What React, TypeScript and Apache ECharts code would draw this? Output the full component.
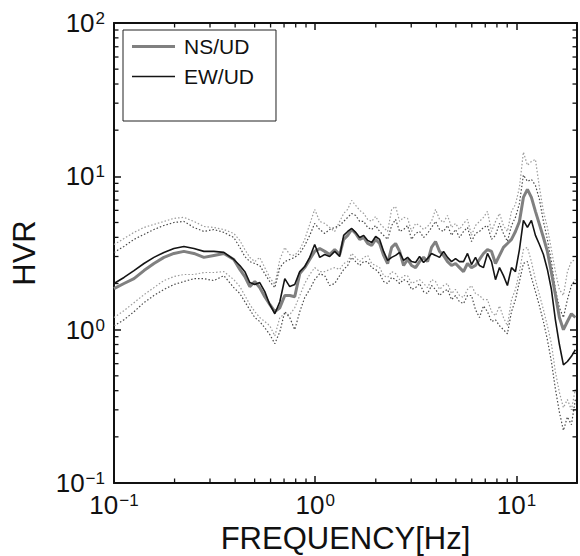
import React, { useEffect, useRef } from "react";
import * as echarts from "echarts";

const FREQ = [
  0.1, 0.1121, 0.1257, 0.1409, 0.1579, 0.177, 0.1985, 0.2225, 0.2495, 0.2797, 0.3135, 0.3515, 0.394,
  0.422, 0.447, 0.473, 0.501, 0.53, 0.5615, 0.5945, 0.63, 0.667, 0.706, 0.747, 0.791, 0.838, 0.887, 0.939, 0.994, 1.053, 1.115, 1.18, 1.25,
  1.323, 1.385, 1.45, 1.518, 1.589, 1.663, 1.741, 1.823, 1.908, 1.997, 2.09, 2.188, 2.29, 2.398, 2.509, 2.627, 2.75, 2.878, 3.013, 3.154,
  3.301, 3.456, 3.617, 3.786, 3.963, 4.149, 4.342, 4.546, 4.758, 4.981, 5.214, 5.458, 5.713, 5.981, 6.26, 6.553, 6.86, 7.18, 7.52, 7.87,
  8.24, 8.62, 9.02, 9.45, 9.89, 10.35, 10.83, 11.34, 11.87, 12.43, 13.01, 13.62, 14.25, 14.92, 15.62, 16.35, 17.12, 17.92, 18.76, 19.63,
];

const EW_MEAN = [
  2.0, 2.19, 2.43, 2.7, 2.96, 3.19, 3.38, 3.49, 3.38, 3.24, 3.24, 3.19, 2.87,
  2.62, 2.39, 2.03, 1.97, 2.03, 1.77, 1.46, 1.27, 1.52, 2.15, 1.91, 1.97, 2.39, 2.58, 2.96, 3.59, 2.96, 3.09, 3.0, 3.24,
  3.0, 4.12, 4.37, 4.57, 4.31, 3.99, 4.12, 3.82, 3.7, 4.05, 3.88, 3.24, 2.83, 2.96, 3.05, 3.19, 2.83, 2.96, 2.78, 2.74,
  3.0, 2.74, 2.91, 3.14, 3.05, 2.96, 3.24, 2.96, 2.78, 2.91, 2.78, 2.78, 3.14, 2.66, 2.96, 2.62, 2.54, 3.14, 2.78, 2.12,
  2.54, 2.25, 1.94, 2.54, 2.39, 3.33, 5.16, 4.64, 5.16, 4.12, 3.59, 3.09, 2.47, 1.83, 1.16, 0.8, 0.59, 0.62, 0.67, 0.74,
];

const NS_MEAN = [
  1.85, 2.0, 2.15, 2.43, 2.7, 2.96, 3.14, 3.24, 3.14, 2.96, 3.05, 3.14, 2.87,
  2.47, 2.22, 1.91, 2.06, 1.88, 1.64, 1.46, 1.31, 1.39, 1.67, 1.67, 1.64, 2.32, 2.54, 2.87, 3.24, 3.38, 3.24, 3.09, 3.33,
  3.09, 3.88, 4.12, 4.5, 4.24, 3.88, 3.99, 3.65, 3.54, 3.88, 3.65, 3.05, 2.7, 3.44, 3.65, 3.24, 2.62, 2.87, 2.62, 2.54,
  2.78, 2.96, 2.78, 3.44, 3.76, 3.24, 3.05, 2.78, 2.62, 2.7, 2.54, 2.39, 2.7, 2.54, 2.62, 2.87, 3.14, 3.33, 3.24, 2.7,
  3.05, 3.44, 3.65, 3.88, 4.37, 5.08, 7.29, 8.22, 7.29, 5.91, 4.86, 3.99, 3.24, 2.36, 1.69, 1.2, 1.0, 1.13, 1.27, 1.2,
];

const NS_UPPER = [
  3.59, 3.93, 4.31, 4.64, 4.86, 5.08, 5.32, 5.4, 5.08, 4.71, 4.64, 4.5, 4.24,
  3.82, 3.33, 2.96, 2.78, 2.96, 2.54, 2.19, 1.97, 2.87, 3.44, 3.09, 3.05, 3.33, 3.88, 4.86, 6.09, 5.08, 4.93, 4.64, 4.37,
  5.08, 5.73, 6.09, 6.97, 6.46, 6.0, 5.73, 5.24, 5.08, 5.48, 4.93, 4.64, 4.37, 6.09, 6.37, 5.08, 5.4, 5.32, 4.37, 4.93,
  4.78, 4.5, 4.71, 5.08, 6.09, 5.24, 5.0, 5.56, 4.64, 4.93, 4.5, 4.93, 5.24, 4.12, 4.78, 5.08, 5.4, 5.91, 4.37, 5.08,
  5.73, 4.78, 4.37, 5.91, 6.56, 8.47, 14.4, 11.8, 12.5, 12.9, 8.47, 5.91, 4.64, 3.33, 2.39, 1.83, 1.67, 2.39, 2.78, 2.87,
];

const EW_UPPER = [
  3.19, 3.49, 3.88, 4.18, 4.5, 4.78, 5.0, 5.08, 4.64, 4.37, 4.5, 4.31, 3.99,
  3.44, 3.0, 2.78, 2.7, 2.62, 2.32, 2.06, 1.88, 2.54, 2.78, 2.87, 2.96, 3.14, 3.54, 4.12, 4.93, 4.5, 4.24, 4.5, 4.64,
  4.78, 5.08, 5.4, 5.73, 5.56, 5.08, 5.08, 4.64, 4.5, 4.78, 4.37, 4.12, 3.88, 4.78, 5.24, 4.37, 4.5, 4.78, 3.88, 4.24,
  4.37, 3.99, 4.24, 4.64, 5.08, 4.5, 4.37, 4.78, 4.12, 4.5, 3.99, 4.37, 4.64, 3.76, 4.24, 4.37, 4.64, 4.78, 3.88, 4.12,
  4.93, 4.24, 3.76, 4.78, 5.4, 6.66, 10.2, 9.27, 9.56, 8.73, 7.07, 5.08, 3.88, 2.78, 1.83, 1.39, 1.2, 1.57, 1.94, 2.12,
];

const NS_LOWER = [
  1.2, 1.33, 1.5, 1.69, 1.88, 2.09, 2.22, 2.29, 2.29, 2.36, 2.36, 2.39, 2.12,
  1.91, 1.67, 1.46, 1.31, 1.2, 1.13, 1.06, 0.91, 1.2, 1.27, 1.25, 1.39, 1.67, 2.0, 2.29, 2.54, 2.39, 2.39, 2.47, 2.54,
  2.47, 2.7, 2.78, 3.14, 2.96, 2.78, 2.96, 3.05, 2.7, 2.62, 2.54, 2.25, 2.19, 2.39, 2.32, 2.12, 2.25, 2.25, 2.0, 2.06,
  2.12, 2.0, 1.88, 2.12, 2.06, 1.83, 1.94, 2.0, 1.72, 1.83, 1.67, 1.62, 1.83, 1.94, 1.72, 1.67, 1.57, 1.57, 1.31, 1.23,
  1.43, 1.2, 1.06, 1.57, 1.83, 2.39, 3.33, 3.44, 2.78, 2.12, 1.69, 1.35, 1.06, 0.81, 0.53, 0.39, 0.31, 0.35, 0.3, 0.41,
];

const EW_LOWER = [
  1.06, 1.16, 1.31, 1.5, 1.67, 1.83, 1.97, 2.06, 2.15, 2.15, 2.09, 2.25, 1.88,
  1.72, 1.52, 1.35, 1.2, 1.13, 1.03, 0.93, 0.81, 0.97, 1.31, 1.2, 1.0, 1.31, 1.62, 1.83, 2.12, 2.32, 2.25, 1.94, 2.0,
  2.25, 2.47, 2.62, 2.96, 2.78, 2.62, 2.78, 2.78, 2.54, 2.47, 2.32, 2.06, 2.0, 2.19, 2.12, 2.0, 2.12, 2.06, 1.83, 1.88,
  2.0, 1.77, 1.72, 1.94, 1.83, 1.67, 1.77, 1.83, 1.57, 1.67, 1.52, 1.48, 1.67, 1.67, 1.35, 1.2, 1.43, 1.31, 1.13, 1.16,
  1.06, 1.0, 0.94, 1.31, 1.57, 2.06, 2.7, 2.78, 2.19, 1.77, 1.43, 1.13, 0.86, 0.62, 0.41, 0.29, 0.22, 0.27, 0.24, 0.35,
];

const X_MINOR = [0.2, 0.3, 0.4, 0.5, 0.6, 0.7, 0.8, 0.9, 2, 3, 4, 5, 6, 7, 8, 9];
const Y_MINOR = [
  0.2, 0.3, 0.4, 0.5, 0.6, 0.7, 0.8, 0.9, 2, 3, 4, 5, 6, 7, 8, 9, 20, 30, 40, 50, 60, 70, 80, 90,
];

const LEGEND_NAMES = ["NS/UD", "EW/UD"];
const X_NAME = "FREQUENCY[Hz]";
const Y_NAME = "HVR";

const FONT = "'Liberation Sans', Arial, Helvetica, sans-serif";
const INK = "#111111";
const NS_COLOR = "#808080";
const EW_COLOR = "#141414";

const fmt = (v: number) => {
  const e = Math.log10(v);
  const r = Math.round(e);
  if (Math.abs(e - r) > 1e-6) return "";
  return `{b|10}{s|${r < 0 ? "\u2212" + -r : r}}`;
};

const rich = {
  b: { fontSize: 26, fontFamily: FONT, color: INK },
  s: { fontSize: 17, fontFamily: FONT, color: INK, verticalAlign: "top", padding: [0, 0, 0, 1] },
};

const pair = (vals: number[]) => FREQ.map((f, i) => [f, vals[i]]);

const dotted = (name: string, vals: number[], color: string) => ({
  type: "line",
  name,
  data: pair(vals),
  showSymbol: false,
  symbol: "none",
  silent: true,
  z: 2,
  lineStyle: { color, width: 1.2, type: [1.5, 2] },
});

const axisBase = {
  type: "log",
  logBase: 10,
  axisLine: { show: true, onZero: false, lineStyle: { color: INK, width: 2 } },
  axisTick: { show: true, inside: true, length: 7, lineStyle: { color: INK, width: 1.5 } },
  splitLine: { show: false },
  minorTick: { show: false },
};

export default function App() {
  const ref = useRef<HTMLDivElement>(null);

  useEffect(() => {
    const chart = echarts.init(ref.current!, null, { renderer: "svg" });
    const tickData = [
      ...X_MINOR.map((v) => [v, 1, 0]),
      ...Y_MINOR.map((v) => [1, v, 1]),
    ];
    const option: any = {
      animation: false,
      backgroundColor: "#ffffff",
      grid: {
        left: 114,
        right: 3,
        top: 23,
        bottom: 73,
        containLabel: false,
        outerBoundsMode: "none",
      },
      legend: {
        left: 123,
        top: 30,
        orient: "vertical",
        data: [
          { name: LEGEND_NAMES[0], icon: "path://M0,0H43V3H0Z" },
          { name: LEGEND_NAMES[1], icon: "path://M0,0H43V1.6H0Z" },
        ],
        selectedMode: false,
        itemWidth: 43,
        itemHeight: 14,
        itemGap: 9,
        padding: [6, 22, 34, 9],
        borderColor: "#222",
        borderWidth: 1,
        borderRadius: 0,
        textStyle: { fontSize: 21, fontFamily: FONT, color: INK, padding: [0, 0, 0, 4] },
      },
      xAxis: [
        {
          ...axisBase,
          position: "bottom",
          min: 0.1,
          max: 20,
          name: X_NAME,
          nameLocation: "middle",
          nameGap: 33,
          nameTextStyle: { fontSize: 31, fontFamily: FONT, color: INK },
          axisLabel: { show: true, margin: 9, formatter: fmt, rich },
        },
        {
          ...axisBase,
          position: "top",
          min: 0.1,
          max: 20,
          axisLabel: { show: false },
        },
      ],
      yAxis: [
        {
          ...axisBase,
          position: "left",
          min: 0.1,
          max: 100,
          name: Y_NAME,
          nameLocation: "middle",
          nameGap: 74,
          nameTextStyle: { fontSize: 31, fontFamily: FONT, color: INK },
          axisLabel: { show: true, margin: 9, formatter: fmt, rich },
        },
        {
          ...axisBase,
          position: "right",
          min: 0.1,
          max: 100,
          axisLabel: { show: false },
        },
      ],
      series: [
        dotted("NS/UD +σ", NS_UPPER, "#9a9a9a"),
        dotted("NS/UD −σ", NS_LOWER, "#9a9a9a"),
        dotted("EW/UD +σ", EW_UPPER, "#4a4a4a"),
        dotted("EW/UD −σ", EW_LOWER, "#4a4a4a"),
        {
          type: "line",
          name: "NS/UD",
          data: pair(NS_MEAN),
          showSymbol: false,
          symbol: "none",
          color: NS_COLOR,
          itemStyle: { color: NS_COLOR },
          z: 3,
          lineStyle: { color: NS_COLOR, width: 3 },
        },
        {
          type: "line",
          name: "EW/UD",
          data: pair(EW_MEAN),
          showSymbol: false,
          symbol: "none",
          color: EW_COLOR,
          itemStyle: { color: EW_COLOR },
          z: 4,
          lineStyle: { color: EW_COLOR, width: 1.6 },
        },
        {
          type: "custom",
          name: "minor ticks",
          silent: true,
          z: 6,
          clip: false,
          data: tickData,
          encode: { x: 0, y: 1 },
          renderItem: (params: any, api: any) => {
            const cs = params.coordSys;
            const kind = api.value(2);
            const len = 4.5;
            const style = { stroke: INK, lineWidth: 1.3 };
            if (kind === 0) {
              const x = api.coord([api.value(0), 1])[0];
              const b = cs.y + cs.height;
              const t = cs.y;
              return {
                type: "group",
                children: [
                  { type: "line", shape: { x1: x, y1: b, x2: x, y2: b - len }, style },
                  { type: "line", shape: { x1: x, y1: t, x2: x, y2: t + len }, style },
                ],
              };
            }
            const y = api.coord([1, api.value(1)])[1];
            const l = cs.x;
            const r = cs.x + cs.width;
            return {
              type: "group",
              children: [
                { type: "line", shape: { x1: l, y1: y, x2: l + len, y2: y }, style },
                { type: "line", shape: { x1: r, y1: y, x2: r - len, y2: y }, style },
              ],
            };
          },
        },
      ],
    };
    chart.setOption(option);
    return () => chart.dispose();
  }, []);

  return (
    <div
      ref={ref}
      style={{ position: "fixed", left: 0, top: 0, width: 580, height: 556, background: "#fff" }}
    />
  );
}
